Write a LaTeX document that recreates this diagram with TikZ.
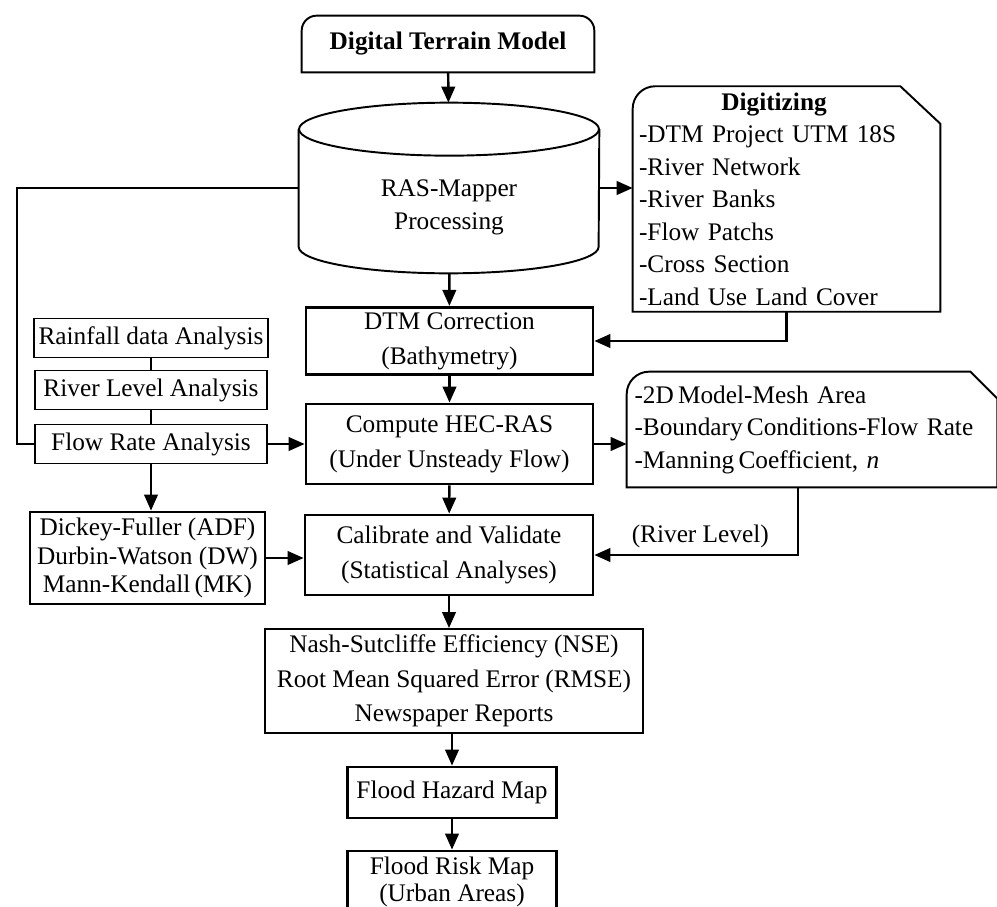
\documentclass[tikz,border=0pt]{standalone}
\usepackage{fontspec}
\setmainfont{Liberation Serif}
\usetikzlibrary{arrows.meta,positioning}

\begin{document}
\begin{tikzpicture}[
  x=0.02cm,y=-0.02cm,
  font=\fontsize{14.4}{18.5}\selectfont,
  >={Triangle[length=3.2mm,width=2.7mm]},
  box/.style={draw,line width=1.1pt,align=center,inner sep=1mm},
  bbox/.style={box,line width=1.6pt},
  main/.style={bbox,font=\fontsize{14.4}{20}\selectfont},
  outline/.style={line width=1.1pt},
  flow/.style={->,line width=1.4pt},
  link/.style={line width=1.4pt}
]
\useasboundingbox (0,0) rectangle (997,906);

% main column
\node[minimum width=5.84cm,minimum height=1.12cm,font=\fontsize{14.4}{18.5}\selectfont\bfseries] (dtm) at (448,44) {Digital Terrain Model};
\draw[outline] (dtm.south west) [rounded corners=0.3cm] -- (dtm.north west) -- (dtm.north east) [sharp corners] -- (dtm.south east) -- cycle;

\node[minimum width=6cm,minimum height=3.4cm,align=center] (ras) at (449,188) {\rule{0pt}{1.1cm}RAS-Mapper\\Processing};
\draw[outline] ([yshift=-0.53cm]ras.north) ellipse [x radius=3cm,y radius=0.53cm];
\draw[outline] ([yshift=-0.53cm]ras.north west) -- ([yshift=0.53cm]ras.south west)
  arc[start angle=180,end angle=360,x radius=3cm,y radius=0.53cm] -- ([yshift=-0.53cm]ras.north east);

\node[main,minimum width=5.74cm,minimum height=1.24cm] (dtmc) at (449.5,341) {DTM Correction\\(Bathymetry)};
\node[main,minimum width=5.74cm,minimum height=1.6cm] (comp) at (449.5,444) {Compute HEC-RAS\\(Under Unsteady Flow)};
\node[main,minimum width=5.76cm,minimum height=1.6cm] (cal) at (449,555) {Calibrate and Validate\\(Statistical Analyses)};
\node[box,minimum width=7.56cm,minimum height=2.08cm,font=\fontsize{14.4}{19.5}\selectfont] (nse) at (454,681) {Nash-Sutcliffe Efficiency (NSE)\\Root Mean Squared Error (RMSE)\\Newspaper Reports};
\node[main,minimum width=4.18cm,minimum height=1.02cm] (fhm) at (452,792.5) {Flood Hazard Map};
\node[main,minimum width=4.18cm,minimum height=1.24cm,font=\fontsize{14.4}{15.5}\selectfont] (frm) at (452,882) {Flood Risk Map\\(Urban Areas)};

% right side
\node[minimum width=6.14cm,minimum height=4.44cm,text width=5.9cm,align=left,inner sep=0.12cm] (dig) at (786.5,199)
  {\makebox[5.4cm]{\textbf{Digitizing}}\\-DTM Project UTM 18S\\-River Network\\-River Banks\\-Flow Patchs\\-Cross Section\\-Land Use Land Cover};
\draw[outline] (dig.south west) [rounded corners=0.45cm] -- (dig.north west) [sharp corners] -- ([xshift=-0.8cm]dig.north east)
  -- ([yshift=-0.75cm]dig.north east) -- (dig.south east) -- cycle;

\node[minimum width=7.4cm,minimum height=2.3cm,text width=7.1cm,align=left,inner sep=0.15cm] (mesh) at (812,429.5)
  {-2D\,Model-Mesh Area\\-Boundary\,Conditions-Flow Rate\\-Manning\,Coefficient, \textit{n}};
\draw[outline] (mesh.south west) [rounded corners=0.45cm] -- (mesh.north west) [sharp corners] -- ([xshift=-0.54cm]mesh.north east)
  -- ([yshift=-0.54cm]mesh.north east) -- (mesh.south east) -- cycle;

% left side
\node[box,minimum width=4.64cm,minimum height=0.78cm] (rain) at (151,338) {Rainfall data Analysis};
\node[box,minimum width=4.64cm,minimum height=0.78cm] (river) at (151,390) {River Level Analysis};
\node[box,minimum width=4.64cm,minimum height=0.78cm] (flow) at (151,444) {Flow Rate Analysis};
\node[bbox,minimum width=4.7cm,minimum height=1.84cm,font=\fontsize{14.4}{16}\selectfont] (dick) at (147.5,558)
  {Dickey-Fuller (ADF)\\Durbin-Watson (DW)\\Mann-Kendall\,(MK)};

% connectors
\draw[flow] (dtm) -- (ras);
\draw[flow] (ras) -- (dtmc);
\draw[flow] (dtmc) -- (comp);
\draw[flow] (comp) -- (cal);
\draw[flow] (cal) -- (cal |- nse.north);
\draw[flow] (fhm |- nse.south) -- (fhm);
\draw[flow] (fhm) -- (frm);
\draw[flow] (ras) -- (ras -| dig.west);
\draw[flow] (dig.south) |- (dtmc);
\draw[flow] (comp) -- (comp -| mesh.west);
\draw[flow] ([xshift=-0.28cm]mesh.south) |- node[above,pos=0.74] {(River Level)} (cal);
\draw[link] (ras.west) -| ([xshift=-0.34cm]flow.west) -- (flow.west);
\draw[link] (rain) -- (river);
\draw[link] (river) -- (flow);
\draw[flow] (flow) -- (comp);
\draw[flow] (flow) -- (flow |- dick.north);
\draw[flow] (dick) -- (dick -| cal.west);
\end{tikzpicture}
\end{document}
